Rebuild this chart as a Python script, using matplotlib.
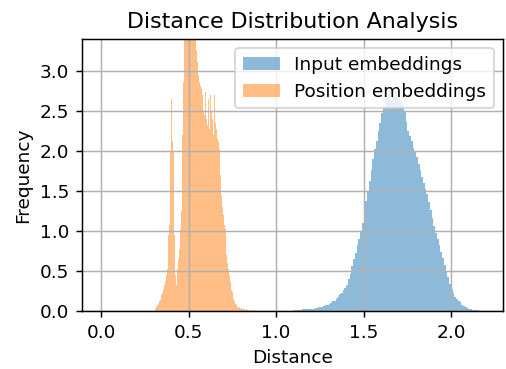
import numpy as np
import matplotlib
matplotlib.use("Agg")
import matplotlib.pyplot as plt

# Density per bin
input_start, input_step = 1.10, 0.01
input_density = [
    0.01, 0.01, 0.01, 0.015, 0.015, 0.02, 0.02, 0.02, 0.025, 0.025,
    0.03, 0.03, 0.035, 0.04, 0.045, 0.05, 0.055, 0.06, 0.07, 0.08,
    0.09, 0.10, 0.12, 0.13, 0.15, 0.18, 0.21, 0.23, 0.26, 0.29,
    0.33, 0.40, 0.46, 0.56, 0.65, 0.73, 0.82, 0.90, 1.00, 1.10,
    1.24, 1.37, 1.50, 1.63, 1.76, 1.90, 2.02, 2.12, 2.25, 2.35,
    2.48, 2.56, 2.62, 2.66, 2.70, 2.64, 2.72, 2.68, 2.75, 2.66,
    2.70, 2.62, 2.58, 2.50, 2.36, 2.25, 2.19, 2.12, 2.04, 2.00,
    1.92, 1.84, 1.76, 1.68, 1.60, 1.52, 1.46, 1.36, 1.26, 1.16,
    1.06, 0.98, 0.90, 0.82, 0.74, 0.66, 0.58, 0.50, 0.42, 0.34,
    0.28, 0.22, 0.18, 0.15, 0.13, 0.11, 0.08, 0.06, 0.05, 0.04,
    0.03, 0.02, 0.015, 0.01, 0.01, 0.008, 0.005, 0.004, 0.003, 0.002,
]

position_start, position_step = 0.31, 0.005
position_density = [
    0.02, 0.05, 0.07, 0.09, 0.12, 0.14, 0.24, 0.20, 0.22, 0.28,
    0.32, 0.38, 0.45, 0.52, 0.61, 0.95, 1.07, 1.99, 2.65, 2.13,
    2.00, 0.95, 0.61, 0.45, 0.32, 0.53, 0.65, 0.78, 1.03, 1.25,
    1.40, 2.20, 2.86, 3.60, 4.20, 4.80, 5.30, 5.60, 5.80, 5.60,
    5.30, 5.00, 4.70, 4.30, 4.00, 3.70, 3.50, 3.25, 3.11, 2.95,
    2.86, 2.82, 2.78, 2.70, 2.61, 2.52, 2.45, 2.74, 2.40, 2.32,
    2.65, 2.28, 2.45, 2.70, 2.49, 2.40, 2.20, 2.70, 2.35, 2.28,
    2.20, 2.15, 2.11, 2.03, 1.70, 1.45, 1.30, 1.20, 1.11, 1.07,
    1.03, 0.70, 0.60, 0.53, 0.45, 0.36, 0.28, 0.26, 0.24, 0.15,
    0.12, 0.09, 0.07, 0.05, 0.05, 0.04, 0.05, 0.03, 0.04, 0.03,
    0.02, 0.03, 0.02, 0.01, 0.03, 0.01, 0.01, 0.0, 0.01, 0.0,
    0.05, 0.0, 0.01, 0.0, 0.01, 0.0,
]


def bin_edges(start, step, n):
    return start + step * np.arange(n + 1)


DPI = 133
fig = plt.figure(figsize=(506 / DPI, 369 / DPI), dpi=DPI)
ax = fig.add_axes([0.162, 0.157, 0.832, 0.737])

e1 = bin_edges(input_start, input_step, len(input_density))
ax.hist((e1[:-1] + e1[1:]) / 2, bins=e1, weights=input_density,
        alpha=0.5, label="Input embeddings")

e2 = bin_edges(position_start, position_step, len(position_density))
ax.hist((e2[:-1] + e2[1:]) / 2, bins=e2, weights=position_density,
        alpha=0.5, label="Position embeddings")

ax.set_xlim(-0.109, 2.297)
ax.set_ylim(0, 3.4)
ax.set_xticks([0.0, 0.5, 1.0, 1.5, 2.0])
ax.set_title("Distance Distribution Analysis")
ax.set_xlabel("Distance")
ax.set_ylabel("Frequency")
ax.legend(loc="upper right")
ax.grid(True)

fig.savefig("out.png", dpi=DPI)
